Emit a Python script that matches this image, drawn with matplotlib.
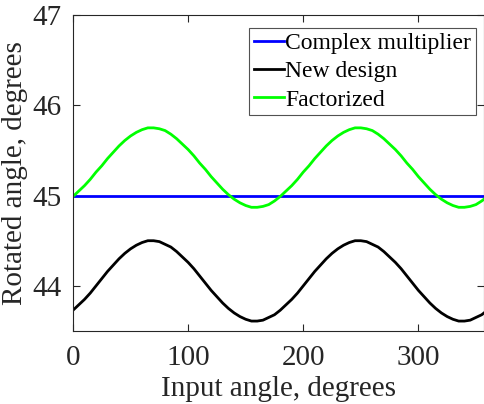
import matplotlib
matplotlib.use("Agg")
import matplotlib.pyplot as plt

plt.rcParams['font.family'] = ['Liberation Serif', 'DejaVu Serif']

angle = list(range(0, 361, 5))
new_design = [43.73, 43.79, 43.85, 43.92, 44.00, 44.08, 44.16, 44.23, 44.30, 44.36,
              44.41, 44.45, 44.48, 44.50, 44.50, 44.49, 44.46, 44.43, 44.38, 44.32,
              44.26, 44.19, 44.11, 44.03, 43.95, 43.88, 43.81, 43.75, 43.70, 43.66,
              43.63, 43.61, 43.61, 43.62, 43.65, 43.68, 43.73,
              43.79, 43.85, 43.92, 44.00, 44.08, 44.16, 44.23, 44.30, 44.36,
              44.41, 44.45, 44.48, 44.50, 44.50, 44.49, 44.46, 44.43, 44.38, 44.32,
              44.26, 44.19, 44.11, 44.03, 43.95, 43.88, 43.81, 43.75, 43.70, 43.66,
              43.63, 43.61, 43.61, 43.62, 43.65, 43.68, 43.73]
factorized = [44.99, 45.05, 45.11, 45.18, 45.26, 45.33, 45.41, 45.48, 45.55, 45.61,
              45.66, 45.70, 45.73, 45.75, 45.75, 45.74, 45.72, 45.68, 45.63, 45.57,
              45.51, 45.44, 45.36, 45.29, 45.21, 45.14, 45.07, 45.01, 44.96, 44.92,
              44.89, 44.87, 44.87, 44.88, 44.90, 44.94, 44.99,
              45.05, 45.11, 45.18, 45.26, 45.33, 45.41, 45.48, 45.55, 45.61,
              45.66, 45.70, 45.73, 45.75, 45.75, 45.74, 45.72, 45.68, 45.63, 45.57,
              45.51, 45.44, 45.36, 45.29, 45.21, 45.14, 45.07, 45.01, 44.96, 44.92,
              44.89, 44.87, 44.87, 44.88, 44.90, 44.94, 44.99]
complex_x = [0, 360]
complex_mult = [45.0, 45.0]

xticks = [0, 100, 200, 300]
yticks = [44, 45, 46, 47]

W, H = 485, 404
fig = plt.figure(figsize=(W / 100, H / 100), dpi=100)
ax = fig.add_axes([73 / W, 1 - 331 / H, (484 - 73) / W, (331 - 15) / H])

tc = '#262626'
ax.plot(complex_x, complex_mult, color='#0000ff', lw=2.0, label='Complex multiplier')
ax.plot(angle, new_design, color='black', lw=2.0, label='New design')
ax.plot(angle, factorized, color='#00ff00', lw=2.0, label='Factorized')

ax.set_xlim(0, 357)
ax.set_ylim(43.5, 47)
ax.set_xticks(xticks)
ax.set_yticks(yticks)
ax.tick_params(direction='in', length=5, width=0.8, colors=tc, labelsize=21,
               top=True, right=True, labeltop=False, labelright=False)
ax.tick_params(axis='x', pad=10)
ax.tick_params(axis='y', pad=8)
for s in ax.spines.values():
    s.set_color(tc)
    s.set_linewidth(0.8)

ax.set_xlabel('Input angle, degrees', fontsize=21, color=tc, labelpad=4)
ax.set_ylabel('Rotated angle, degrees', fontsize=21, color=tc, labelpad=3)

leg = ax.legend(loc='upper right', bbox_to_anchor=(476 / W, 1 - 28 / H),
                bbox_transform=fig.transFigure, fontsize=17, frameon=True,
                fancybox=False, borderpad=0.2, handlelength=1.3,
                handletextpad=0.05, labelspacing=0.28, borderaxespad=0)
leg.get_frame().set_edgecolor(tc)
leg.get_frame().set_linewidth(0.8)
for t in leg.get_texts():
    t.set_color('black')

fig.savefig('out.png', dpi=100)
